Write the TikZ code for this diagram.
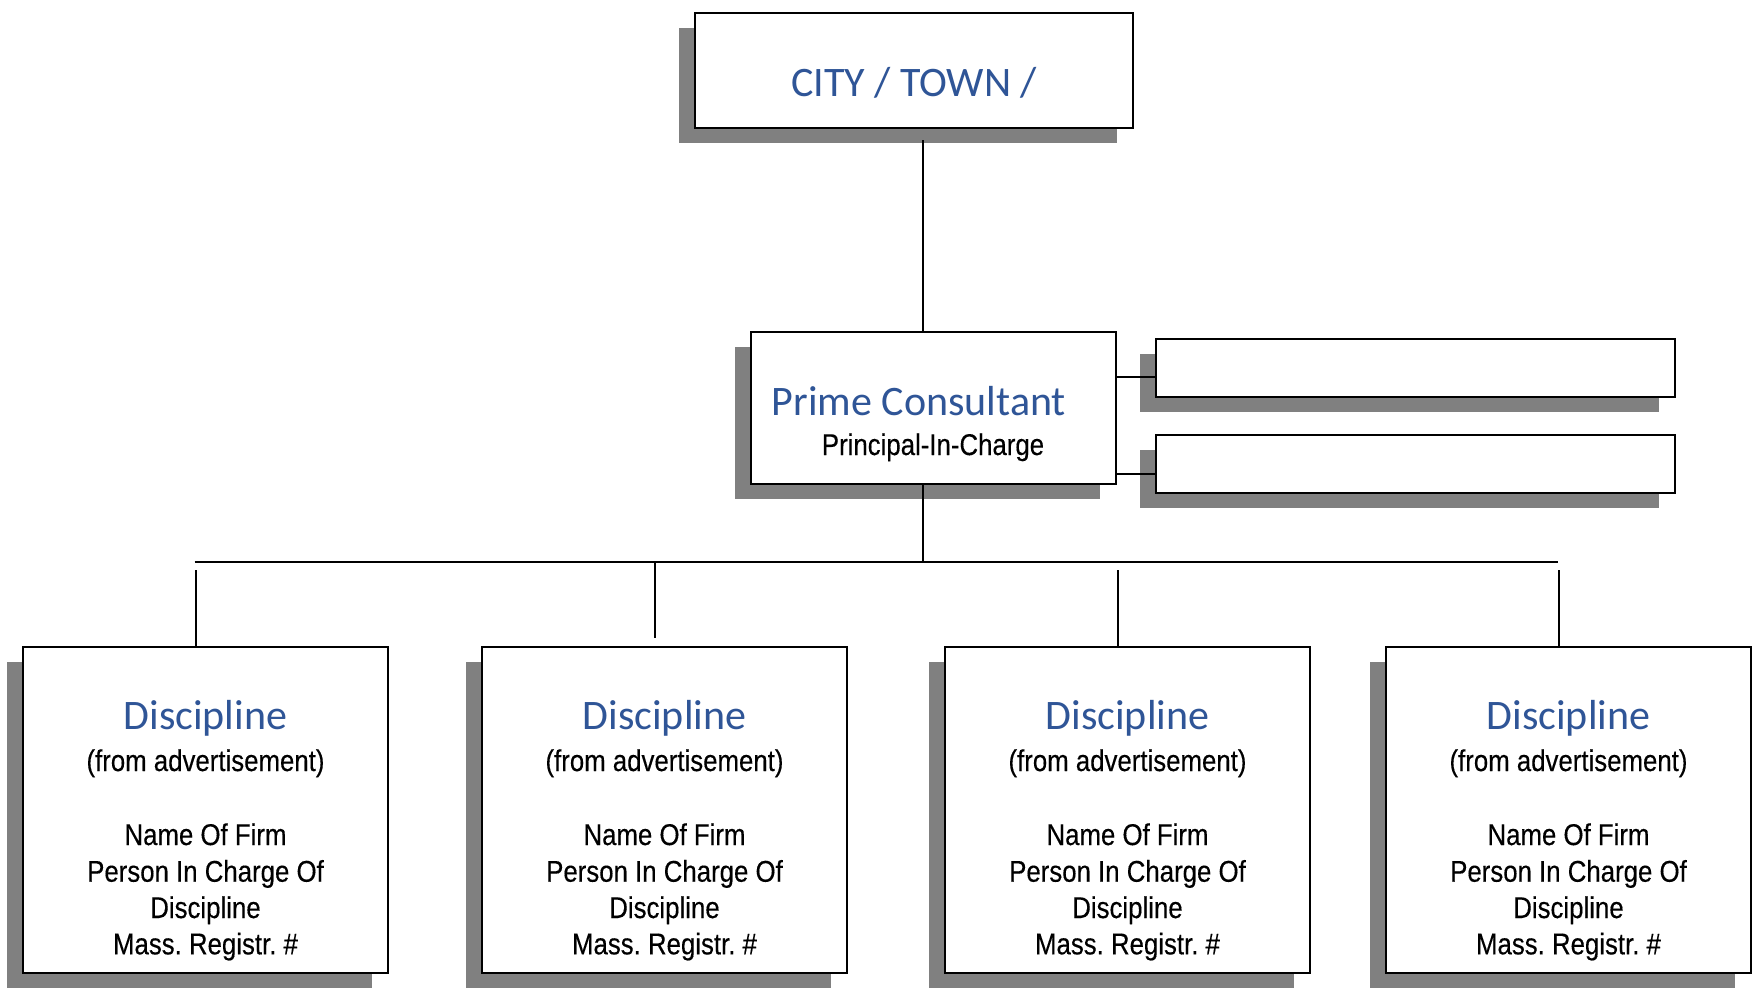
\documentclass[tikz,border=0pt]{standalone}
\usepackage{fontspec}
\frenchspacing
\newfontfamily\titlefont{Carlito}
\newfontfamily\bodyfont[FakeStretch=0.86,FakeBold=0.3]{Liberation Sans}
\usetikzlibrary{backgrounds}
\definecolor{titleblue}{RGB}{47,85,151}
\definecolor{shadowgray}{RGB}{128,128,128}
\newcommand\shadowof[1]{%
  \begin{pgfonlayer}{background}
    \fill[shadowgray] ([shift={(-16,15)}]#1.south west) rectangle ([shift={(-16,15)}]#1.north east);
  \end{pgfonlayer}}
\begin{document}
\begin{tikzpicture}[x=1pt,y=-1pt,
  box/.style={draw=black, line width=2pt, fill=white, rectangle, inner sep=0pt, outer sep=0pt},
  link/.style={draw=black, line width=2pt},
  titletext/.style={text=titleblue, font=\titlefont\fontsize{42}{50}\selectfont, inner sep=0pt, anchor=base},
  bodytext/.style={text=black, font=\bodyfont\fontsize{30}{36}\selectfont, inner sep=0pt, anchor=base}]
\useasboundingbox (0,0) rectangle (1754,989);

% boxes
\node[box, minimum width=438pt, minimum height=115pt] (city) at (914,70) {};
\node[box, minimum width=365pt, minimum height=152pt] (prime) at (933.5,408) {};
\node[box, minimum width=519pt, minimum height=58pt] (side1) at (1415,368) {};
\node[box, minimum width=519pt, minimum height=58pt] (side2) at (1415,464) {};
\shadowof{city}
\shadowof{prime}
\shadowof{side1}
\shadowof{side2}

\foreach \i/\cx in {1/205.5,2/664.5,3/1127.5,4/1568.5} {
  \node[box, minimum width=365pt, minimum height=326pt] (d\i) at (\cx,810) {};
  \shadowof{d\i}
  \node[titletext] (d\i title) at (\cx,729) {Discipline};
  \node[bodytext] (d\i src) at (\cx,771) {(from advertisement)};
  \node[bodytext] (d\i firm) at (\cx,845) {Name Of Firm};
  \node[bodytext] (d\i person) at (\cx,881.7) {Person In Charge Of};
  \node[bodytext] (d\i disc) at (\cx,918) {Discipline};
  \node[bodytext] (d\i reg) at (\cx,954.3) {Mass. Registr. \#};
}

% texts
\node[titletext] (citytxt) at (914,96.7) {CITY / TOWN /};
\node[titletext] (primetxt) at (919,415) {Prime Consultant};
\node[bodytext] (pictxt) at (933,455) {Principal-In-Charge};

% connectors
\coordinate (citystub) at (923,140);
\coordinate (busL) at (194.5,562);
\coordinate (busR) at (1558,562);
\coordinate (s1y) at (0,377);
\coordinate (s2y) at (0,474);
\coordinate (d1stub) at (196,570);
\coordinate (d2a) at (655,562);
\coordinate (d2b) at (655,638);
\coordinate (d3stub) at (1118,570);
\coordinate (d4stub) at (1559,570);

\draw[link] (citystub) -- (citystub |- prime.north);
\draw[link] (prime.south -| citystub) -- (citystub |- busL);
\draw[link] (busL) -- (busR);
\draw[link] (d1stub) -- (d1stub |- d1.north);
\draw[link] (d2a) -- (d2b);
\draw[link] (d3stub) -- (d3stub |- d3.north);
\draw[link] (d4stub) -- (d4stub |- d4.north);
\draw[link] (prime.east |- s1y) -- (side1.west |- s1y);
\draw[link] (prime.east |- s2y) -- (side2.west |- s2y);
\end{tikzpicture}
\end{document}
